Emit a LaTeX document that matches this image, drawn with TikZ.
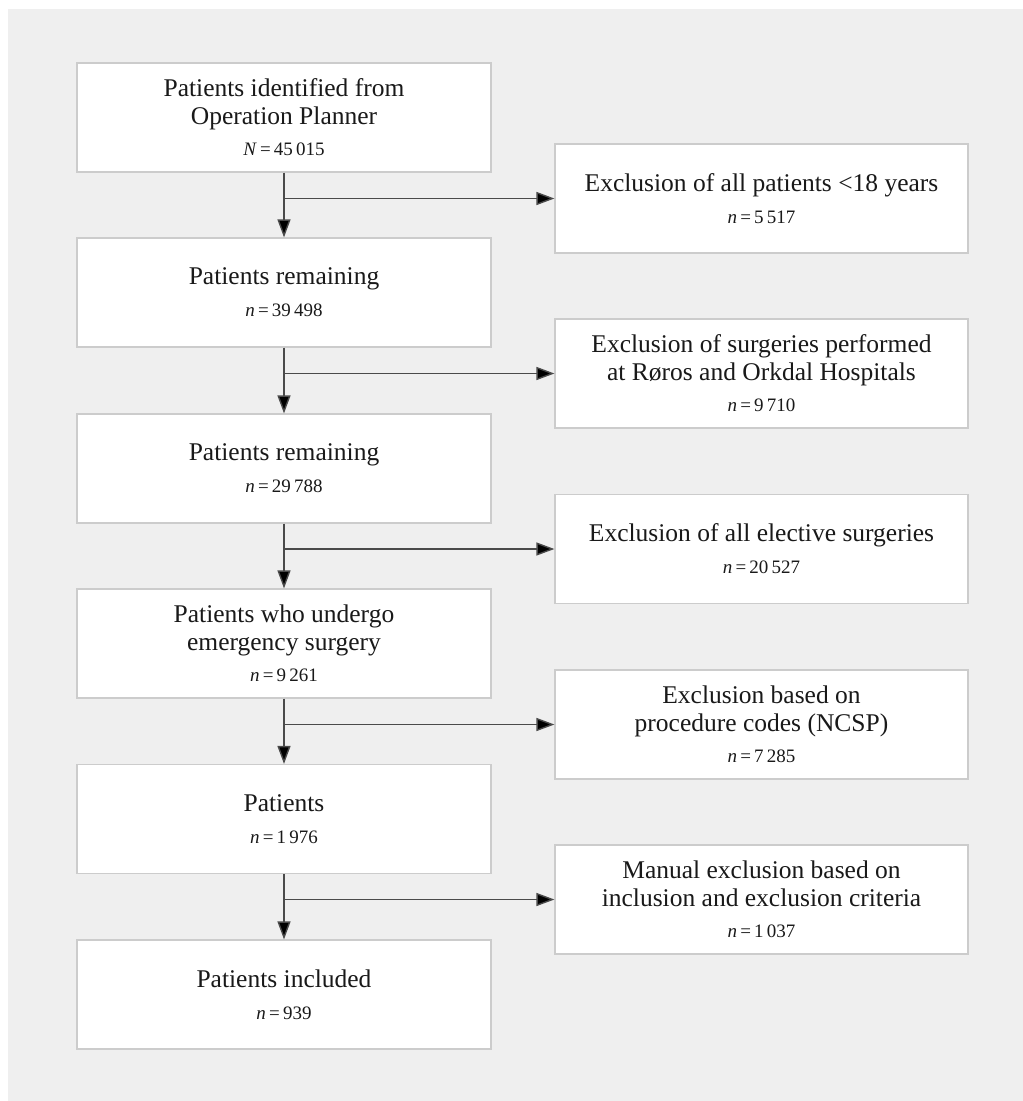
\documentclass[tikz,border=0pt]{standalone}
\usepackage{fontspec}
\setmainfont{Liberation Serif}
\usetikzlibrary{arrows.meta}
\definecolor{panel}{HTML}{EFEFEF}
\definecolor{boxline}{HTML}{CCCCCC}
\definecolor{conncol}{HTML}{4A4A4A}
\newcommand{\nval}[2]{{\fontsize{19}{22}\selectfont\textit{#1}\,=\,#2}}
\tikzset{
  flowbox/.style={draw=boxline, line width=1.2pt, fill=white, minimum height=109pt, inner sep=0pt, align=center, font=\fontsize{25.5}{28}\selectfont, text=black!90},
  leftbox/.style={flowbox, minimum width=414pt},
  rightbox/.style={flowbox, minimum width=413pt},
  conn/.style={draw=conncol, line width=1.4pt},
  arr/.style={conn, -{Triangle[length=18pt,width=13pt,fill=black]}}
}
\begin{document}
\begin{tikzpicture}[x=1pt,y=-1pt]
\useasboundingbox (0,0) rectangle (1023,1101);
\fill[panel] (8,9) rectangle (1023,1101);

\node[leftbox] (b1) at (284,117.5) {Patients identified from\\Operation Planner\\[3pt]\nval{N}{45\,015}};
\node[leftbox] (b2) at (284,292.5) {Patients remaining\\[4pt]\nval{n}{39\,498}};
\node[leftbox] (b3) at (284,468.5) {Patients remaining\\[4pt]\nval{n}{29\,788}};
\node[leftbox] (b4) at (284,643.5) {Patients who undergo\\emergency surgery\\[3pt]\nval{n}{9\,261}};
\node[leftbox] (b5) at (284,819) {Patients\\[4pt]\nval{n}{1\,976}};
\node[leftbox] (b6) at (284,994.5) {Patients included\\[4pt]\nval{n}{939}};

\node[rightbox] (e1) at (761.5,198.5) {Exclusion of all patients <18 years\\[4pt]\nval{n}{5\,517}};
\node[rightbox] (e2) at (761.5,373.5) {Exclusion of surgeries performed\\at Røros and Orkdal Hospitals\\[3pt]\nval{n}{9\,710}};
\node[rightbox] (e3) at (761.5,549) {Exclusion of all elective surgeries\\[4pt]\nval{n}{20\,527}};
\node[rightbox] (e4) at (761.5,724.5) {Exclusion based on\\procedure codes (NCSP)\\[3pt]\nval{n}{7\,285}};
\node[rightbox] (e5) at (761.5,899.5) {Manual exclusion based on\\inclusion and exclusion criteria\\[3pt]\nval{n}{1\,037}};

\foreach \a/\b/\e in {b1/b2/e1, b2/b3/e2, b3/b4/e3, b4/b5/e4, b5/b6/e5}{
  \draw[arr] (\a.south) -- (\b.north);
  \draw[arr] (\a.south |- \e.west) -- (\e.west);
}
\end{tikzpicture}
\end{document}
